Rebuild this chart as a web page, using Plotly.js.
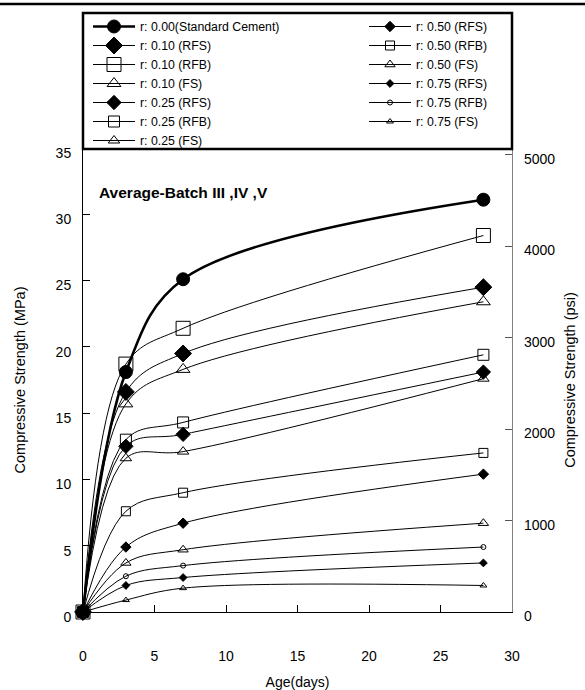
<!DOCTYPE html>
<html>
<head>
<meta charset="utf-8">
<script src="https://cdn.plot.ly/plotly-3.0.1.min.js"></script>
<style>html,body{margin:0;padding:0;background:#fff;}#chart{width:585px;height:690px;}</style>
</head>
<body>
<div id="chart"></div>
<script>
// Age in days
const ages = [0, 3, 7, 28];
// Compressive strength (MPa)
const std000 = [0, 18.1, 25.1, 31.1];
const rfs010 = [0, 16.6, 19.5, 24.5];
const rfb010 = [0, 18.7, 21.4, 28.4];
const fs010  = [0, 15.7, 18.3, 23.4];
const rfs025 = [0, 12.5, 13.4, 18.1];
const rfb025 = [0, 13.0, 14.3, 19.4];
const fs025  = [0, 11.6, 12.1, 17.6];
const rfs050 = [0, 4.9, 6.7, 10.4];
const rfb050 = [0, 7.6, 9.0, 12.0];
const fs050  = [0, 3.7, 4.7, 6.7];
const rfs075 = [0, 2.0, 2.6, 3.7];
const rfb075 = [0, 2.7, 3.5, 4.9];
const fs075  = [0, 0.9, 1.8, 2.0];
// Right axis tick labels (psi)
const psiTicks = [0, 1000, 2000, 3000, 4000, 5000];

const names = [
  'r: 0.00(Standard Cement)', 'r: 0.10 (RFS)', 'r: 0.10 (RFB)', 'r: 0.10 (FS)',
  'r: 0.25 (RFS)', 'r: 0.25 (RFB)', 'r: 0.25 (FS)',
  'r: 0.50 (RFS)', 'r: 0.50 (RFB)', 'r: 0.50 (FS)',
  'r: 0.75 (RFS)', 'r: 0.75 (RFB)', 'r: 0.75 (FS)'
];
const series = [std000, rfs010, rfb010, fs010, rfs025, rfb025, fs025,
                rfs050, rfb050, fs050, rfs075, rfb075, fs075];
const symbols = ['circle', 'diamond', 'square-open', 'triangle-up-open',
                 'diamond', 'square-open', 'triangle-up-open',
                 'diamond', 'square-open', 'triangle-up-open',
                 'diamond', 'circle-open', 'triangle-up-open'];
const sizes = [13, 13, 14, 12, 11, 11, 10, 8, 9, 9, 6, 5, 6];
const lineWidths = [2.6, 1, 1, 1, 1, 1, 1, 1, 1, 1, 1, 1, 1];

const FONT = 'Liberation Sans, Arial, sans-serif';
const MPA_TO_PSI = 145.038;

const traces = series.map((ys, i) => ({
  type: 'scatter',
  mode: 'lines+markers',
  x: ages,
  y: ys,
  name: names[i],
  legend: i < 7 ? 'legend' : 'legend2',
  cliponaxis: false,
  line: {color: '#000', width: lineWidths[i], shape: 'spline', smoothing: 1},
  marker: {symbol: symbols[i], size: sizes[i], color: '#000', line: {color: '#000', width: 1}}
}));
// empty trace so the secondary (psi) axis is drawn
traces.push({type: 'scatter', mode: 'markers', x: [], y: [], yaxis: 'y2', showlegend: false, hoverinfo: 'skip'});

const PX_TOP = 148, PX_BOT = 612, PX_L = 83, PX_R = 512;
const H = PX_BOT - PX_TOP, W = PX_R - PX_L;
const py = p => (PX_BOT - p) / H;
const px = p => (p - PX_L) / W;

const layout = {
  width: 585, height: 690,
  margin: {l: PX_L, r: 585 - PX_R, t: PX_TOP, b: 690 - PX_BOT, pad: 0},
  paper_bgcolor: '#fff', plot_bgcolor: '#fff',
  font: {family: FONT, size: 14, color: '#000'},
  showlegend: true,
  xaxis: {
    range: [0, 30], dtick: 5, tick0: 0,
    ticks: 'inside', ticklen: 7, tickcolor: '#000',
    showline: true, linecolor: '#000', linewidth: 1,
    showgrid: false, zeroline: false,
    ticklabelstandoff: 31,
    tickfont: {size: 14},
    title: {text: 'Age(days)', font: {size: 14}, standoff: 16}
  },
  yaxis: {
    range: [0, 35], dtick: 5, tick0: 0,
    ticks: 'inside', ticklen: 7, tickcolor: '#000',
    showline: true, linecolor: '#000', linewidth: 1,
    showgrid: false, zeroline: false,
    ticklabelstandoff: 8, ticklabelshift: 5,
    tickfont: {size: 14},
    title: {text: 'Compressive Strength (MPa)', font: {size: 14.5}, standoff: 26}
  },
  yaxis2: {
    overlaying: 'y', side: 'right', anchor: 'x',
    range: [0, 35 * MPA_TO_PSI],
    tickvals: psiTicks,
    ticks: 'inside', ticklen: 7, tickcolor: '#555',
    showline: true, linecolor: '#808080', linewidth: 1.2,
    showgrid: false, zeroline: false,
    ticklabelstandoff: 8, ticklabelshift: 4,
    tickfont: {size: 14},
    title: {text: 'Compressive Strength (psi)', font: {size: 14.5}, standoff: 10}
  },
  legend: {
    x: px(88), y: py(12), xanchor: 'left', yanchor: 'top',
    bgcolor: 'rgba(0,0,0,0)', borderwidth: 0,
    font: {family: FONT, size: 12.3, color: '#000'},
    itemwidth: 42, tracegroupgap: 0
  },
  legend2: {
    x: px(364), y: py(12), xanchor: 'left', yanchor: 'top',
    bgcolor: 'rgba(0,0,0,0)', borderwidth: 0,
    font: {family: FONT, size: 12.3, color: '#000'},
    itemwidth: 42, tracegroupgap: 0
  },
  shapes: [
    {type: 'rect', xref: 'paper', yref: 'paper', x0: 0, x1: 1, y0: py(149), y1: py(13),
     line: {color: '#000', width: 2.5}, fillcolor: 'rgba(0,0,0,0)'},
    {type: 'line', xref: 'paper', yref: 'paper', x0: px(0), x1: px(585), y0: py(4), y1: py(4),
     line: {color: '#000', width: 2.5}}
  ],
  annotations: [
    {text: '<b>Average-Batch III ,IV ,V</b>', xref: 'paper', yref: 'paper',
     x: px(97), y: py(193), xanchor: 'left', yanchor: 'middle', showarrow: false,
     font: {family: FONT, size: 15.5, color: '#000'}}
  ]
};

Plotly.newPlot('chart', traces, layout, {displayModeBar: false, staticPlot: true});
</script>
</body>
</html>
